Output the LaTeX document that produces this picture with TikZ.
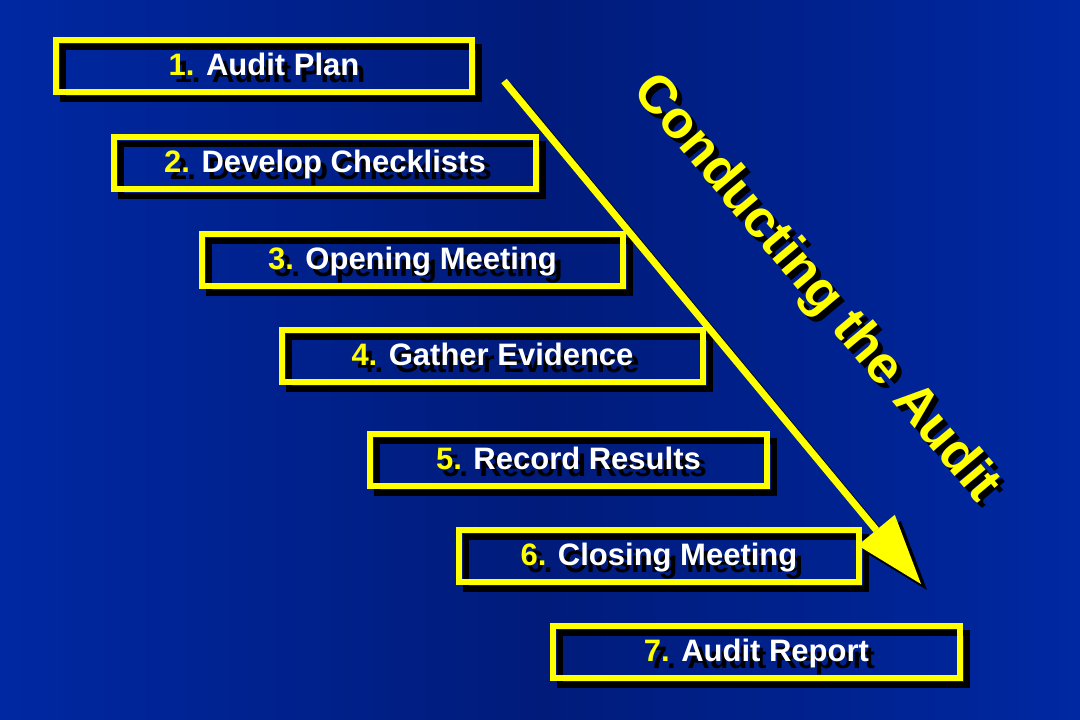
\documentclass[tikz,border=0pt]{standalone}
\usepackage{fontspec}
\setmainfont{Liberation Sans}
\definecolor{bgedge}{RGB}{0,40,162}
\definecolor{bgmid}{RGB}{0,27,122}
\definecolor{ylw}{RGB}{255,255,0}
\begin{document}
\begin{tikzpicture}[x=1pt,y=-1pt,
  boxframe/.style={draw=ylw, line width=6pt, inner sep=0pt, minimum height=52pt},
  boxshadow/.style={draw=black, line width=6pt, inner sep=0pt, minimum height=52pt},
  boxtext/.style={text=white, font=\bfseries\fontsize{31}{37}\selectfont, inner sep=0pt, anchor=base},
  boxtextshadow/.style={boxtext, text=black},
  bigtext/.style={text=ylw, font=\bfseries\fontsize{53}{60}\selectfont, inner sep=0pt, anchor=base, rotate=-50},
  bigshadow/.style={bigtext, text=black},
  arrowline/.style={line width=7pt, line cap=butt}
]
\shade[left color=bgedge, right color=bgedge, middle color=bgmid] (0,0) rectangle (1080,720);
\useasboundingbox (0,0) rectangle (1080,720);

\foreach \n/\cx/\cy/\w/\t in {1/264/66/416/Audit Plan,
  2/325/163/422/Develop Checklists,
  3/412.5/260/421/Opening Meeting,
  4/492.5/356/421/Gather Evidence,
  5/568.5/460/397/Record Results,
  6/659/556/400/Closing Meeting,
  7/756.5/652/407/Audit Report}{
  \node[boxshadow, minimum width=\w pt] (s\n) at (\cx+7,\cy+7) {};
  \node[boxframe, minimum width=\w pt] (b\n) at (\cx,\cy) {};
  \node[boxtextshadow] (ts\n) at ([xshift=6pt,yshift=-16pt]b\n.center) {\n. \t};
  \node[boxtext] (t\n) at ([yshift=-9pt]b\n.center) {\textcolor{ylw}{\n.} \t};
}

% arrow
\coordinate (astart) at (504,81);
\coordinate (amid) at (876.3,530.1);
\coordinate (al) at (894.8,514.8);
\coordinate (ar) at (857.8,545.4);
\coordinate (atip) at (921,584);
\draw[arrowline, black] ([shift={(6,6)}]astart) -- ([shift={(6,6)}]amid);
\fill[black] ([shift={(6,6)}]al) -- ([shift={(6,6)}]atip) -- ([shift={(6,6)}]ar) -- cycle;
\draw[arrowline, ylw] (astart) -- (amid);
\fill[ylw] (al) -- (atip) -- (ar) -- cycle;

% rotated title
\node[bigshadow] (cts) at (810,303) {Conducting the Audit};
\node[bigtext] (ct) at (805,298) {Conducting the Audit};
\end{tikzpicture}
\end{document}
